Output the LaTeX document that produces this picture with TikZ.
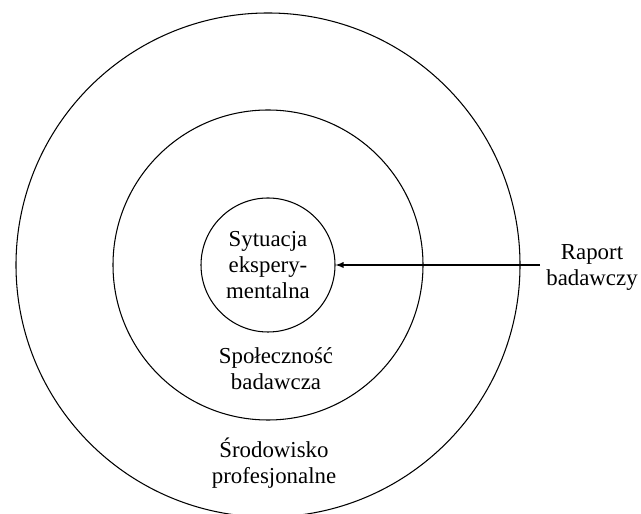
\documentclass[tikz,border=0pt]{standalone}
\usepackage{fontspec}
\setmainfont{Liberation Serif}
\usetikzlibrary{calc,arrows}

\tikzset{
  ring/.style={circle,draw,line width=0.6pt,inner sep=0pt},
  lbl/.style={align=center,font=\fontsize{13}{14.8}\selectfont},
}

\begin{document}
\begin{tikzpicture}
              \useasboundingbox (0,0) rectangle (12.82,10.28);
              \coordinate (c) at (5.36,4.98);
              \node[ring,minimum size=10.08cm](srod)at(c){};
              \node[ring,minimum size=6.2cm](spol)at(c){};
              \node[ring,lbl,minimum size=2.68cm](sit)at(c){Sytuacja\\ekspery-\\mentalna};
              \node[lbl](spoltxt)at(5.52,2.90){Społeczność\\badawcza};
              \node[lbl](srodtxt)at(5.48,1.01){Środowisko\\profesjonalne};
              \node[lbl](raport)at(11.84,4.93){Raport\\badawczy};
              \draw[-latex,line width=0.6pt](raport.west |- sit)--(sit);
            \end{tikzpicture}
\end{document}
